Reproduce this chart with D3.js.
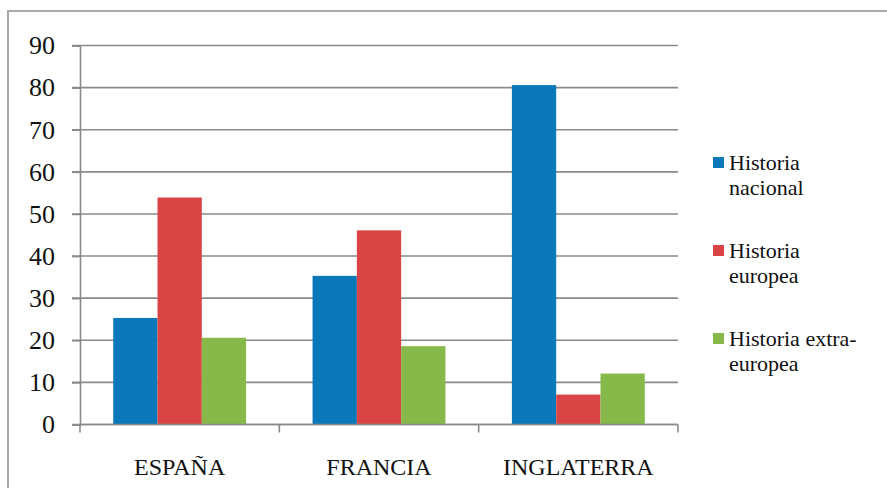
<!DOCTYPE html>
<html>
<head>
<meta charset="utf-8">
<script src="https://cdn.jsdelivr.net/npm/d3@7"></script>
<style>
  body { margin: 0; background: #fff; }
  text { fill: #111; }
</style>
</head>
<body>
<svg id="chart" width="887" height="488"></svg>
<script>
// Countries on the x axis
var paises = ['ESPAÑA', 'FRANCIA', 'INGLATERRA'];

// Series (one value per country)
var series = ['Historia nacional', 'Historia europea', 'Historia extra-europea'];
var nacional = [25.3, 35.3, 80.6];
var europea = [53.9, 46.1, 7.1];
var extraEuropea = [20.6, 18.6, 12.1];

// Legend labels split on two lines
var legendLines = [['Historia', 'nacional'], ['Historia', 'europea'], ['Historia extra-', 'europea']];

var yTicks = [0, 10, 20, 30, 40, 50, 60, 70, 80, 90];
var colors = ['#0a78b9', '#d94545', '#86b84a'];

var serifFont = '"Liberation Serif", "DejaVu Serif", Tinos, "Times New Roman", Times, "Noto Serif", Georgia, serif';

var svg = d3.select('#chart');

// outer frame
svg.append('rect')
  .attr('x', 8).attr('y', 11)
  .attr('width', 900).attr('height', 500)
  .attr('fill', 'none')
  .attr('stroke', '#a8a8a8')
  .attr('stroke-width', 2);

// plot area (window.top is read-only, so no "top" here)
var plotL = 80, plotR = 678, plotT = 45.5, plotB = 424.5;

var x = d3.scaleBand().domain(paises).range([plotL, plotR]).paddingInner(0).paddingOuter(0);
var x1 = d3.scaleBand().domain(series).range([0, x.bandwidth()]).paddingInner(0).paddingOuter(0.75);
var y = d3.scaleLinear().domain([0, 90]).range([plotB, plotT]);

// gridlines
svg.append('g').selectAll('line')
  .data(yTicks)
  .enter().append('line')
  .attr('x1', plotL - 8).attr('x2', plotR)
  .attr('y1', function(d) { return y(d); })
  .attr('y2', function(d) { return y(d); })
  .attr('stroke', '#8a8a8a')
  .attr('stroke-width', 1.6);

// y axis
var yAxis = svg.append('g')
  .attr('transform', 'translate(' + plotL + ',0)')
  .call(d3.axisLeft(y).tickValues(yTicks).tickSize(8).tickPadding(17));
yAxis.attr('font-family', null);
yAxis.select('.domain').attr('stroke', '#8a8a8a').attr('stroke-width', 1.6);
yAxis.selectAll('.tick line').attr('stroke', '#8a8a8a').attr('stroke-width', 1.6);
yAxis.selectAll('text')
  .style('font-family', serifFont)
  .style('font-size', '26px')
  .attr('fill', '#111');

// bars
var rows = paises.map(function(p, i) {
  return { pais: p, vals: [nacional[i], europea[i], extraEuropea[i]] };
});

var groups = svg.append('g').selectAll('g')
  .data(rows)
  .enter().append('g')
  .attr('transform', function(d) { return 'translate(' + x(d.pais) + ',0)'; });

groups.selectAll('rect')
  .data(function(d) { return d.vals.map(function(v, j) { return { s: series[j], v: v, c: colors[j] }; }); })
  .enter().append('rect')
  .attr('x', function(d) { return x1(d.s); })
  .attr('width', x1.bandwidth())
  .attr('y', function(d) { return y(d.v); })
  .attr('height', function(d) { return y(0) - y(d.v); })
  .attr('fill', function(d) { return d.c; });

// x axis
var xAxis = svg.append('g')
  .attr('transform', 'translate(0,' + plotB + ')')
  .call(d3.axisBottom(x).tickSize(0).tickPadding(33));
xAxis.attr('font-family', null);
xAxis.select('.domain').remove();
xAxis.append('line')
  .attr('x1', plotL).attr('x2', plotR)
  .attr('stroke', '#8a8a8a').attr('stroke-width', 1.6);
xAxis.selectAll('.sep')
  .data(paises.concat(['end']))
  .enter().append('line')
  .attr('class', 'sep')
  .attr('x1', function(d, i) { return plotL + i * x.bandwidth(); })
  .attr('x2', function(d, i) { return plotL + i * x.bandwidth(); })
  .attr('y1', 0).attr('y2', 8)
  .attr('stroke', '#8a8a8a').attr('stroke-width', 1.6);
xAxis.selectAll('.tick text')
  .style('font-family', serifFont)
  .style('font-size', '24px')
  .attr('fill', '#111');

// legend
var legend = svg.append('g').selectAll('g')
  .data(series)
  .enter().append('g')
  .attr('transform', function(d, i) { return 'translate(713,' + (157 + i * 88) + ')'; });

legend.append('rect')
  .attr('width', 11).attr('height', 11)
  .attr('fill', function(d, i) { return colors[i]; });

legend.each(function(d, i) {
  var t = d3.select(this).append('text')
    .attr('x', 16).attr('y', 13)
    .style('font-family', serifFont)
    .style('font-size', '22px');
  legendLines[i].forEach(function(line, k) {
    t.append('tspan').attr('x', 16).attr('dy', k === 0 ? 0 : 24.5).text(line);
  });
});
</script>
</body>
</html>
